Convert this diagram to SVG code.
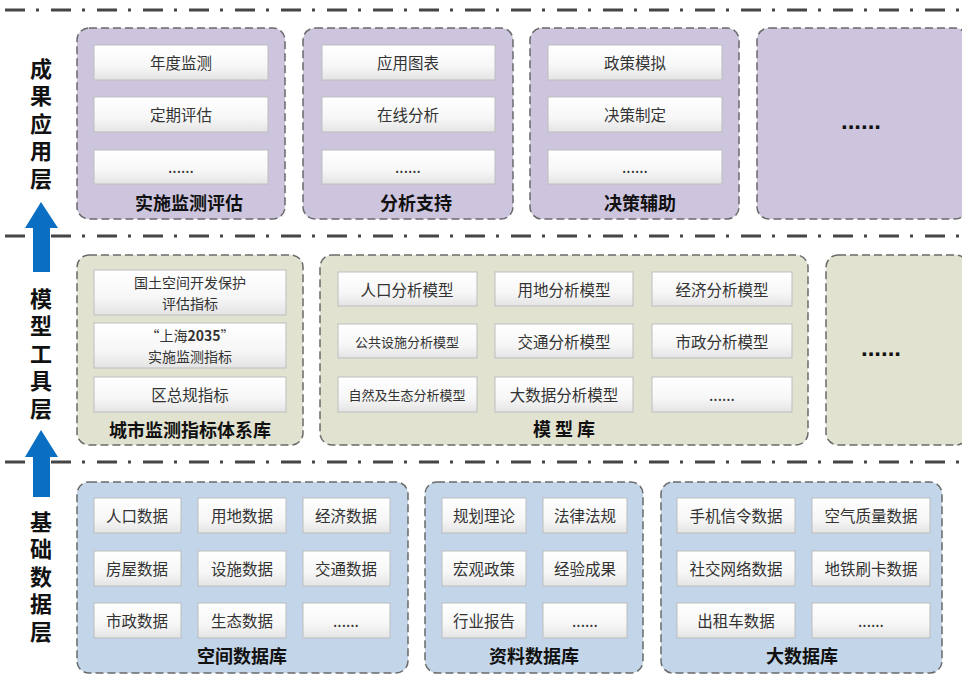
<svg xmlns="http://www.w3.org/2000/svg" width="962" height="687" viewBox="0 0 962 687">
<defs>
<linearGradient id="cell" x1="0" y1="0" x2="0" y2="1">
<stop offset="0" stop-color="#ffffff"/><stop offset="0.6" stop-color="#f7f7f7"/><stop offset="1" stop-color="#e4e4e4"/>
</linearGradient>
<style>
.sep{stroke:#454545;stroke-width:3;stroke-dasharray:20 11 3 12;fill:none}
.grp{stroke:#6a6a6a;stroke-width:1.5;stroke-dasharray:8 4}
.pur{fill:#cdc5de}
.oli{fill:#e1e2d0}
.blu{fill:#c3d5e8}
.cell{fill:url(#cell);stroke:#bdbdbd;stroke-width:1}
.t{font-family:"Noto Sans CJK SC","Liberation Sans",sans-serif;font-size:15.5px;fill:#333;text-anchor:middle;dominant-baseline:central}
.ts{font-size:13px}
.t2{font-size:14px}
.h{font-family:"Noto Sans CJK SC","Liberation Sans",sans-serif;font-size:18px;font-weight:bold;fill:#111;text-anchor:middle;dominant-baseline:central}
.lay{font-family:"Noto Sans CJK SC","Liberation Sans",sans-serif;font-size:22px;font-weight:bold;fill:#111;text-anchor:middle;writing-mode:vertical-rl;letter-spacing:5.5px}
.dots{font-family:"Liberation Sans",sans-serif;font-size:24px;font-weight:bold;fill:#111;text-anchor:middle;dominant-baseline:central}
.arr{fill:#0a6fc2}
</style>
</defs>
<rect width="962" height="687" fill="#ffffff"/>

<g id="separators">
<line class="sep" x1="5" y1="10" x2="962" y2="10"/>
<line class="sep" x1="5" y1="236" x2="962" y2="236"/>
<line class="sep" x1="5" y1="462" x2="962" y2="462"/>
</g>

<g id="connectors">
<path class="arr" d="M41,202 L58,228 L50,228 L50,272 L33,272 L33,228 L25,228 Z"/>
<path class="arr" d="M41,430 L58,457 L50,457 L50,497 L33,497 L33,457 L25,457 Z"/>
</g>

<g id="layer-labels">
<text class="lay" x="41" y="126">成果应用层</text>
<text class="lay" x="41" y="356">模型工具层</text>
<text class="lay" x="41" y="579">基础数据层</text>
</g>

<!-- Application layer -->
<g id="app-monitor">
<rect class="pur grp" x="77" y="28" width="208" height="191" rx="12"/>
<rect class="cell" x="94" y="45" width="174" height="35"/><text class="t" x="181" y="62">年度监测</text>
<rect class="cell" x="94" y="97" width="174" height="35"/><text class="t" x="181" y="114">定期评估</text>
<rect class="cell" x="94" y="150" width="174" height="34"/><text class="t" x="181" y="166">......</text>
<text class="h" x="189" y="202">实施监测评估</text>
</g>
<g id="app-analysis">
<rect class="pur grp" x="303" y="28" width="210" height="191" rx="12"/>
<rect class="cell" x="322" y="45" width="173" height="35"/><text class="t" x="408" y="62">应用图表</text>
<rect class="cell" x="322" y="97" width="173" height="35"/><text class="t" x="408" y="114">在线分析</text>
<rect class="cell" x="322" y="150" width="173" height="34"/><text class="t" x="408" y="166">......</text>
<text class="h" x="416" y="202">分析支持</text>
</g>
<g id="app-decision">
<rect class="pur grp" x="530" y="28" width="209" height="191" rx="12"/>
<rect class="cell" x="548" y="45" width="174" height="35"/><text class="t" x="635" y="62">政策模拟</text>
<rect class="cell" x="548" y="97" width="174" height="35"/><text class="t" x="635" y="114">决策制定</text>
<rect class="cell" x="548" y="150" width="174" height="34"/><text class="t" x="635" y="166">......</text>
<text class="h" x="640" y="202">决策辅助</text>
</g>
<g id="app-more">
<rect class="pur grp" x="757" y="28" width="210" height="191" rx="12"/>
<text class="dots" x="861" y="120">......</text>
</g>

<!-- Model layer -->
<g id="indicator-lib">
<rect class="oli grp" x="77" y="255" width="226" height="190" rx="12"/>
<rect class="cell" x="94" y="270" width="192" height="45"/>
<text class="t t2" x="190" y="282">国土空间开发保护</text><text class="t t2" x="190" y="303">评估指标</text>
<rect class="cell" x="94" y="323" width="192" height="45"/>
<text class="t t2" x="190" y="335">“上海<tspan font-weight="bold">2035</tspan>”</text><text class="t t2" x="190" y="356">实施监测指标</text>
<rect class="cell" x="94" y="377" width="192" height="35"/><text class="t" x="190" y="394">区总规指标</text>
<text class="h" x="190" y="429">城市监测指标体系库</text>
</g>
<g id="model-lib">
<rect class="oli grp" x="320" y="255" width="488" height="190" rx="12"/>
<rect class="cell" x="338" y="272" width="139" height="34"/><text class="t" x="407" y="289">人口分析模型</text>
<rect class="cell" x="495" y="272" width="138" height="34"/><text class="t" x="564" y="289">用地分析模型</text>
<rect class="cell" x="652" y="272" width="140" height="34"/><text class="t" x="722" y="289">经济分析模型</text>
<rect class="cell" x="338" y="324" width="139" height="34"/><text class="t ts" x="407" y="341">公共设施分析模型</text>
<rect class="cell" x="495" y="324" width="138" height="34"/><text class="t" x="564" y="341">交通分析模型</text>
<rect class="cell" x="652" y="324" width="140" height="34"/><text class="t" x="722" y="341">市政分析模型</text>
<rect class="cell" x="338" y="377" width="139" height="35"/><text class="t ts" x="407" y="394">自然及生态分析模型</text>
<rect class="cell" x="495" y="377" width="138" height="35"/><text class="t" x="564" y="394">大数据分析模型</text>
<rect class="cell" x="652" y="377" width="140" height="35"/><text class="t" x="722" y="394">......</text>
<text class="h" x="564" y="428" font-size="20">模 型 库</text>
</g>
<g id="model-more">
<rect class="oli grp" x="826" y="255" width="142" height="190" rx="12"/>
<text class="dots" x="881" y="347">......</text>
</g>

<!-- Data layer -->
<g id="spatial-db">
<rect class="blu grp" x="77" y="482" width="331" height="191" rx="12"/>
<rect class="cell" x="94" y="498" width="87" height="35"/><text class="t" x="137" y="515">人口数据</text>
<rect class="cell" x="198" y="498" width="88" height="35"/><text class="t" x="242" y="515">用地数据</text>
<rect class="cell" x="303" y="498" width="87" height="35"/><text class="t" x="346" y="515">经济数据</text>
<rect class="cell" x="94" y="551" width="87" height="35"/><text class="t" x="137" y="568">房屋数据</text>
<rect class="cell" x="198" y="551" width="88" height="35"/><text class="t" x="242" y="568">设施数据</text>
<rect class="cell" x="303" y="551" width="87" height="35"/><text class="t" x="346" y="568">交通数据</text>
<rect class="cell" x="94" y="603" width="87" height="35"/><text class="t" x="137" y="620">市政数据</text>
<rect class="cell" x="198" y="603" width="88" height="35"/><text class="t" x="242" y="620">生态数据</text>
<rect class="cell" x="303" y="603" width="87" height="35"/><text class="t" x="346" y="620">......</text>
<text class="h" x="242" y="655">空间数据库</text>
</g>
<g id="document-db">
<rect class="blu grp" x="425" y="482" width="218" height="191" rx="12"/>
<rect class="cell" x="442" y="498" width="84" height="35"/><text class="t" x="484" y="515">规划理论</text>
<rect class="cell" x="543" y="498" width="84" height="35"/><text class="t" x="585" y="515">法律法规</text>
<rect class="cell" x="442" y="551" width="84" height="35"/><text class="t" x="484" y="568">宏观政策</text>
<rect class="cell" x="543" y="551" width="84" height="35"/><text class="t" x="585" y="568">经验成果</text>
<rect class="cell" x="442" y="603" width="84" height="35"/><text class="t" x="484" y="620">行业报告</text>
<rect class="cell" x="543" y="603" width="84" height="35"/><text class="t" x="585" y="620">......</text>
<text class="h" x="534" y="655">资料数据库</text>
</g>
<g id="big-data-db">
<rect class="blu grp" x="661" y="482" width="281" height="191" rx="12"/>
<rect class="cell" x="677" y="498" width="118" height="35"/><text class="t" x="736" y="515">手机信令数据</text>
<rect class="cell" x="812" y="498" width="118" height="35"/><text class="t" x="871" y="515">空气质量数据</text>
<rect class="cell" x="677" y="551" width="118" height="35"/><text class="t" x="736" y="568">社交网络数据</text>
<rect class="cell" x="812" y="551" width="118" height="35"/><text class="t" x="871" y="568">地铁刷卡数据</text>
<rect class="cell" x="677" y="603" width="118" height="35"/><text class="t" x="736" y="620">出租车数据</text>
<rect class="cell" x="812" y="603" width="118" height="35"/><text class="t" x="871" y="620">......</text>
<text class="h" x="802" y="655">大数据库</text>
</g>
</svg>
